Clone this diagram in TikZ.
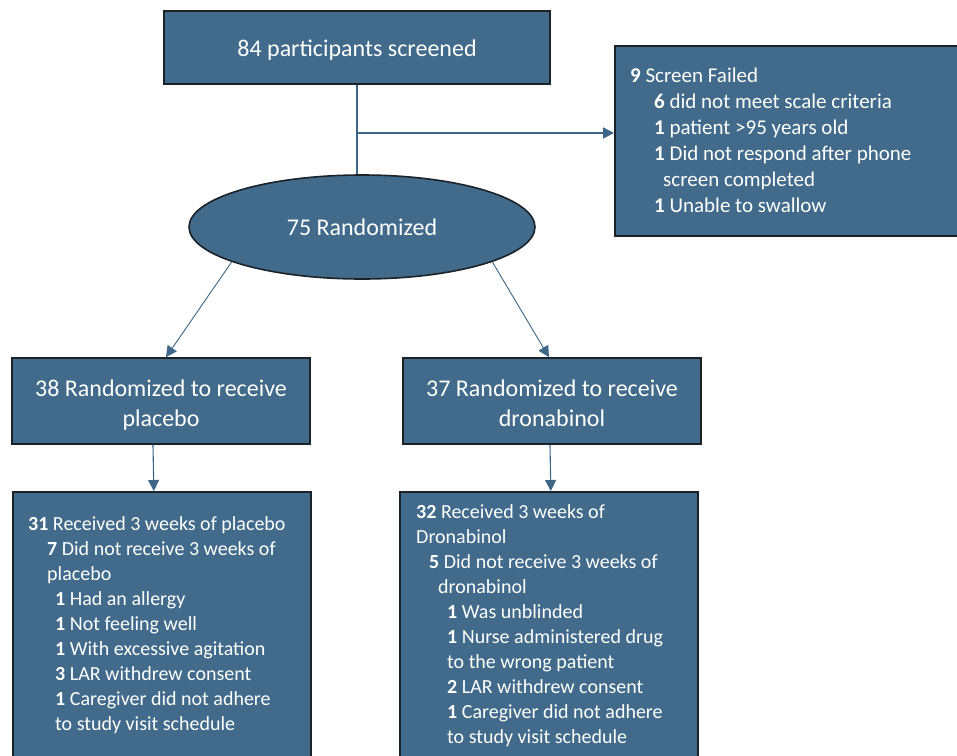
\documentclass[tikz,border=0pt]{standalone}
\usepackage{fontspec}
\setmainfont{Carlito}
\usetikzlibrary{shapes.geometric,arrows.meta}
\definecolor{boxfill}{HTML}{416A8B}
\definecolor{boxline}{HTML}{1B2228}
\definecolor{linec}{HTML}{3D6687}
\begin{document}
\begin{tikzpicture}[x=1pt,y=-1pt,
  box/.style={draw=boxline, line width=1.6pt, fill=boxfill, text=white, inner sep=0pt},
  big/.style={font=\fontsize{24}{30}\selectfont},
  lbl/.style={big, text=white, align=center, inner sep=0pt},
  conn/.style={draw=linec, line width=1.6pt},
  arr/.style={draw=linec, -{Triangle[length=11pt,width=11pt]}},
  txt/.style={anchor=base west, inner sep=0pt, text=white},
]
\useasboundingbox (0,0) rectangle (957,755);
\begin{scope}
\clip (0,0) rectangle (957,755);
\node[box,minimum width=386pt,minimum height=73pt] (screened) at (357,47.5) {};
\node[lbl] (screenedtxt) at ([yshift=-3pt]screened.center) {84 participants screened};
\node[box,ellipse,big,minimum width=346pt,minimum height=104pt] (rand) at (362,227) {75 Randomized};
\node[box,anchor=north west,minimum width=400pt,minimum height=190pt] (fail) at (614,45) {};
\node[box,minimum width=298pt,minimum height=86pt] (placebo) at (161,401) {};
\node[lbl] (placebotxt) at ([yshift=-4pt]placebo.center) {38 Randomized to receive\\placebo};
\node[box,minimum width=298pt,minimum height=86pt] (dron) at (552,401) {};
\node[lbl] (drontxt) at ([yshift=-2pt]dron.center) {37 Randomized to receive\\dronabinol};
\node[box,anchor=north west,minimum width=298pt,minimum height=300pt] (pbot) at (12,491) {};
\node[box,anchor=north west,minimum width=298pt,minimum height=300pt] (dbot) at (399,491) {};

\node[txt] (failtxt) at (630,82) {\parbox[t]{330pt}{\fontsize{21}{26}\selectfont\raggedright
\textbf{9} Screen Failed\\
\hspace*{24pt}\textbf{6} did not meet scale criteria\\
\hspace*{24pt}\textbf{1} patient >95 years old\\
\hspace*{24pt}\textbf{1} Did not respond after phone\\
\hspace*{33pt}screen completed\\
\hspace*{24pt}\textbf{1} Unable to swallow}};

\node[txt] (pbottxt) at (28,530) {\parbox[t]{310pt}{\fontsize{20}{25}\selectfont\raggedright
\textbf{31} Received 3 weeks of placebo\\
\hspace*{19pt}\textbf{7} Did not receive 3 weeks of\\
\hspace*{19pt}placebo\\
\hspace*{27pt}\textbf{1} Had an allergy\\
\hspace*{27pt}\textbf{1} Not feeling well\\
\hspace*{27pt}\textbf{1} With excessive agitation\\
\hspace*{27pt}\textbf{3} LAR withdrew consent\\
\hspace*{27pt}\textbf{1} Caregiver did not adhere\\
\hspace*{27pt}to study visit schedule}};

\node[txt] (dbottxt) at (416,518) {\parbox[t]{310pt}{\fontsize{20}{25}\selectfont\raggedright
\textbf{32} Received 3 weeks of\\
Dronabinol\\
\hspace*{13pt}\textbf{5} Did not receive 3 weeks of\\
\hspace*{22pt}dronabinol\\
\hspace*{31pt}\textbf{1} Was unblinded\\
\hspace*{31pt}\textbf{1} Nurse administered drug\\
\hspace*{31pt}to the wrong patient\\
\hspace*{31pt}\textbf{2} LAR withdrew consent\\
\hspace*{31pt}\textbf{1} Caregiver did not adhere\\
\hspace*{31pt}to study visit schedule}};

\coordinate (br) at (357,133);
\draw[conn] (screened.south) -- (screened.south |- rand.north);
\draw[conn,arr] (br) -- (br -| fail.west);
\draw[arr,line width=0.9pt] (rand.195) -- ([xshift=5pt]placebo.north);
\draw[arr,line width=0.9pt] (rand.-15) -- ([xshift=-3pt]dron.north);
\draw[arr,line width=1.1pt] ([xshift=-8pt]placebo.south) -- ([xshift=-8pt]pbot.north);
\draw[arr,line width=1.1pt] ([xshift=-2pt]dron.south) -- ([xshift=2pt]dbot.north);
\end{scope}
\end{tikzpicture}
\end{document}
